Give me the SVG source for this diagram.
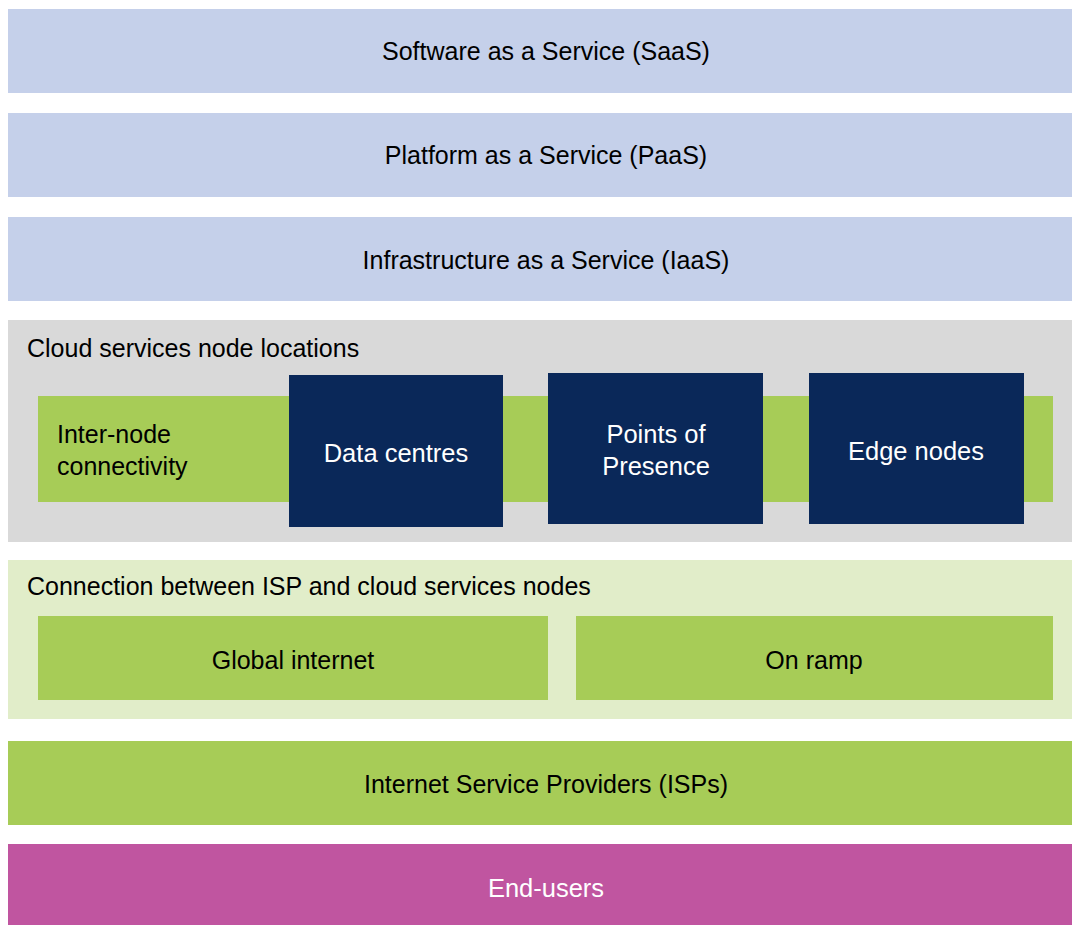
<svg xmlns="http://www.w3.org/2000/svg" width="1073" height="925" viewBox="0 0 1073 925">
<style>
.t{font-family:"Liberation Sans",Arial,sans-serif;font-size:25px;fill:#000}
.w{font-family:"Liberation Sans",Arial,sans-serif;font-size:25.5px;fill:#fff}
.m{text-anchor:middle}
.blue{fill:#c5d0ea}
.green{fill:#a7cc57}
.navy{fill:#0a2859}
</style>
<rect width="1073" height="925" fill="#fff"/>
<g id="saas"><rect class="blue" x="8" y="9" width="1064" height="84"/><text class="t m" x="546" y="60">Software as a Service (SaaS)</text></g>
<g id="paas"><rect class="blue" x="8" y="113" width="1064" height="84"/><text class="t m" x="546" y="164">Platform as a Service (PaaS)</text></g>
<g id="iaas"><rect class="blue" x="8" y="217" width="1064" height="84"/><text class="t m" x="546" y="269">Infrastructure as a Service (IaaS)</text></g>
<g id="cloud"><rect x="8" y="320" width="1064" height="222" fill="#d9d9d9"/><text class="t" x="27" y="357">Cloud services node locations</text></g>
<g id="internode"><rect class="green" x="38" y="396" width="1015" height="106"/><text class="t" x="57" y="443">Inter-node</text><text class="t" x="57" y="475">connectivity</text></g>
<g id="datacentres"><rect class="navy" x="289" y="375" width="214" height="152"/><text class="w m" x="396" y="462">Data centres</text></g>
<g id="pop"><rect class="navy" x="548" y="373" width="215" height="151"/><text class="w m" x="656" y="443">Points of</text><text class="w m" x="656" y="475">Presence</text></g>
<g id="edge"><rect class="navy" x="809" y="373" width="215" height="151"/><text class="w m" x="916" y="460">Edge nodes</text></g>
<g id="connection"><rect x="8" y="560" width="1064" height="159" fill="#e1edc9"/><text class="t" x="27" y="595">Connection between ISP and cloud services nodes</text></g>
<g id="global"><rect class="green" x="38" y="616" width="510" height="84"/><text class="t m" x="293" y="669">Global internet</text></g>
<g id="onramp"><rect class="green" x="576" y="616" width="477" height="84"/><text class="t m" x="814" y="669">On ramp</text></g>
<g id="isp"><rect class="green" x="8" y="741" width="1064" height="84"/><text class="t m" x="546" y="793">Internet Service Providers (ISPs)</text></g>
<g id="endusers"><rect x="8" y="844" width="1064" height="81" fill="#c055a0"/><text class="w m" x="546" y="897">End-users</text></g>
<g id="connectors"></g>
</svg>
